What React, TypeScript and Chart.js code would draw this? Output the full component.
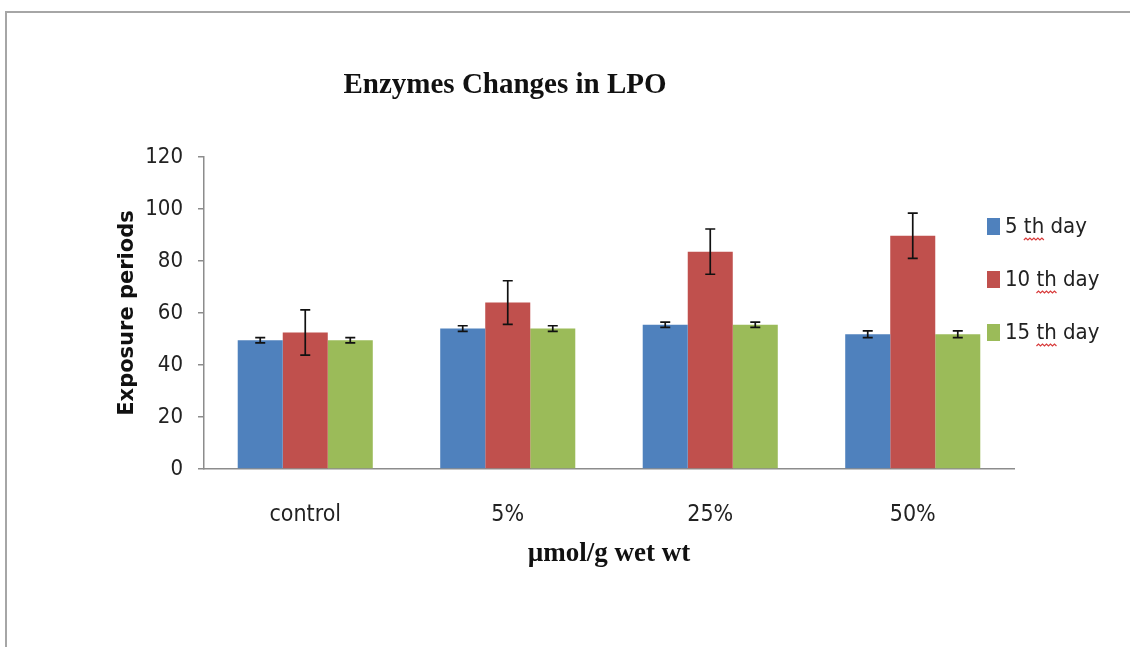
import React, { useEffect, useRef } from "react";
import { Chart, registerables } from "chart.js";

Chart.register(...registerables);

const categories = ["control", "5%", "25%", "50%"];
const seriesLabels = ["5 th day", "10 th day", "15 th day"];
const day5Values = [49.5, 54, 55.5, 51.8];
const day10Values = [52.5, 64, 83.6, 89.7];
const day15Values = [49.5, 54, 55.5, 51.8];
const day5Errors = [1, 1.1, 1, 1.3];
const day10Errors = [8.7, 8.4, 8.7, 8.7];
const day15Errors = [1, 1.1, 1, 1.3];
const seriesColors = ["#4F81BD", "#C0504D", "#9BBB59"];
const chartTitle = "Enzymes Changes in LPO";
const xTitle = "\u00B5mol/g wet wt";
const yTitle = "Exposure periods";

const NARROW = "'Liberation Sans Narrow', 'DejaVu Sans Condensed', 'Roboto', sans-serif";
const SERIF = "'Liberation Serif', 'DejaVu Serif', serif";

const errorSets = [day5Errors, day10Errors, day15Errors];

const errorBarPlugin = {
  id: "errorBars",
  afterDatasetsDraw(chart: any) {
    const ctx = chart.ctx;
    const yScale = chart.scales.y;
    ctx.save();
    ctx.strokeStyle = "#111111";
    ctx.lineWidth = 1.7;
    chart.data.datasets.forEach((ds: any, i: number) => {
      const meta = chart.getDatasetMeta(i);
      const errs = errorSets[i];
      meta.data.forEach((bar: any, j: number) => {
        const v = ds.data[j];
        const e = errs[j];
        const yTop = yScale.getPixelForValue(v + e);
        const yBot = yScale.getPixelForValue(v - e);
        const cap = 5;
        ctx.beginPath();
        ctx.moveTo(bar.x, yTop);
        ctx.lineTo(bar.x, yBot);
        ctx.moveTo(bar.x - cap, yTop);
        ctx.lineTo(bar.x + cap, yTop);
        ctx.moveTo(bar.x - cap, yBot);
        ctx.lineTo(bar.x + cap, yBot);
        ctx.stroke();
      });
    });
    ctx.restore();
  },
};

const titleLegendPlugin = {
  id: "titleLegend",
  afterDraw(chart: any) {
    const ctx = chart.ctx;
    ctx.save();
    // Title
    ctx.fillStyle = "#111111";
    ctx.font = `bold 29px ${SERIF}`;
    ctx.textAlign = "center";
    ctx.textBaseline = "middle";
    ctx.fillText(chartTitle, 505, 86);

    // Legend
    const boxX = 987;
    const textX = 1005;
    const startY = 227;
    const step = 53;
    ctx.font = `22px ${NARROW}`;
    ctx.textAlign = "left";
    chart.data.datasets.forEach((ds: any, i: number) => {
      const yc = startY + i * step;
      ctx.fillStyle = ds.backgroundColor;
      ctx.fillRect(boxX, yc - 9, 13, 17);
      ctx.fillStyle = "#222222";
      ctx.textBaseline = "middle";
      const label = ds.label as string;
      ctx.fillText(label, textX, yc);
      // spell-check squiggle under "th"
      const idx = label.indexOf("th");
      if (idx >= 0) {
        const before = ctx.measureText(label.slice(0, idx)).width;
        const w = ctx.measureText("th").width;
        const x0 = textX + before;
        const yy = yc + 13;
        ctx.strokeStyle = "#d83a3a";
        ctx.lineWidth = 1.2;
        ctx.beginPath();
        let up = true;
        ctx.moveTo(x0, yy);
        for (let x = x0 + 2; x <= x0 + w + 1; x += 2) {
          ctx.lineTo(x, up ? yy - 2 : yy);
          up = !up;
        }
        ctx.stroke();
      }
    });
    ctx.restore();
  },
};

export default function App() {
  const canvasRef = useRef<HTMLCanvasElement | null>(null);

  useEffect(() => {
    if (!canvasRef.current) return;
    const chart = new Chart(canvasRef.current, {
      type: "bar",
      data: {
        labels: categories,
        datasets: [
          { label: seriesLabels[0], data: day5Values, backgroundColor: seriesColors[0] },
          { label: seriesLabels[1], data: day10Values, backgroundColor: seriesColors[1] },
          { label: seriesLabels[2], data: day15Values, backgroundColor: seriesColors[2] },
        ],
      },
      options: {
        responsive: false,
        animation: false,
        layout: { padding: { top: 157, right: 116, bottom: 0, left: 0 } },
        datasets: { bar: { categoryPercentage: 0.667, barPercentage: 1.0 } },
        plugins: {
          legend: { display: false },
          title: { display: false },
          tooltip: { enabled: false },
        },
        scales: {
          x: {
            grid: { display: false },
            border: { display: true, color: "#8c8c8c", width: 1.5 },
            ticks: { padding: 24, color: "#222222", font: { family: NARROW, size: 23 } },
            title: {
              display: true,
              text: xTitle,
              color: "#111111",
              font: { family: SERIF, size: 27, weight: "bold" },
              padding: { top: 0, bottom: 77 },
            },
            afterFit: (s: any) => {
              s.height = 178;
            },
          },
          y: {
            min: 0,
            max: 120,
            ticks: { stepSize: 20, padding: 15, color: "#222222", font: { family: NARROW, size: 22 } },
            grid: { drawOnChartArea: false, drawTicks: true, tickLength: 6, color: "#8c8c8c", lineWidth: 1.5 },
            border: { display: true, color: "#8c8c8c", width: 1.5 },
            title: {
              display: true,
              text: yTitle,
              color: "#111111",
              font: { family: "'DejaVu Sans', Verdana, sans-serif", size: 21, weight: "bold" },
              padding: { top: 115, bottom: 0 },
            },
            afterFit: (s: any) => {
              s.width = 204;
            },
          },
        },
      } as any,
      plugins: [errorBarPlugin, titleLegendPlugin],
    });
    return () => chart.destroy();
  }, []);

  return (
    <div style={{ position: "fixed", left: 0, top: 0, width: 1130, height: 647, background: "#ffffff", overflow: "hidden" }}>
      <div
        style={{
          position: "absolute",
          left: 5,
          top: 11,
          width: 1140,
          height: 660,
          borderLeft: "2px solid #a6a6a6",
          borderTop: "2px solid #a6a6a6",
        }}
      />
      <canvas ref={canvasRef} width={1130} height={647} style={{ position: "absolute", left: 0, top: 0 }} />
    </div>
  );
}
